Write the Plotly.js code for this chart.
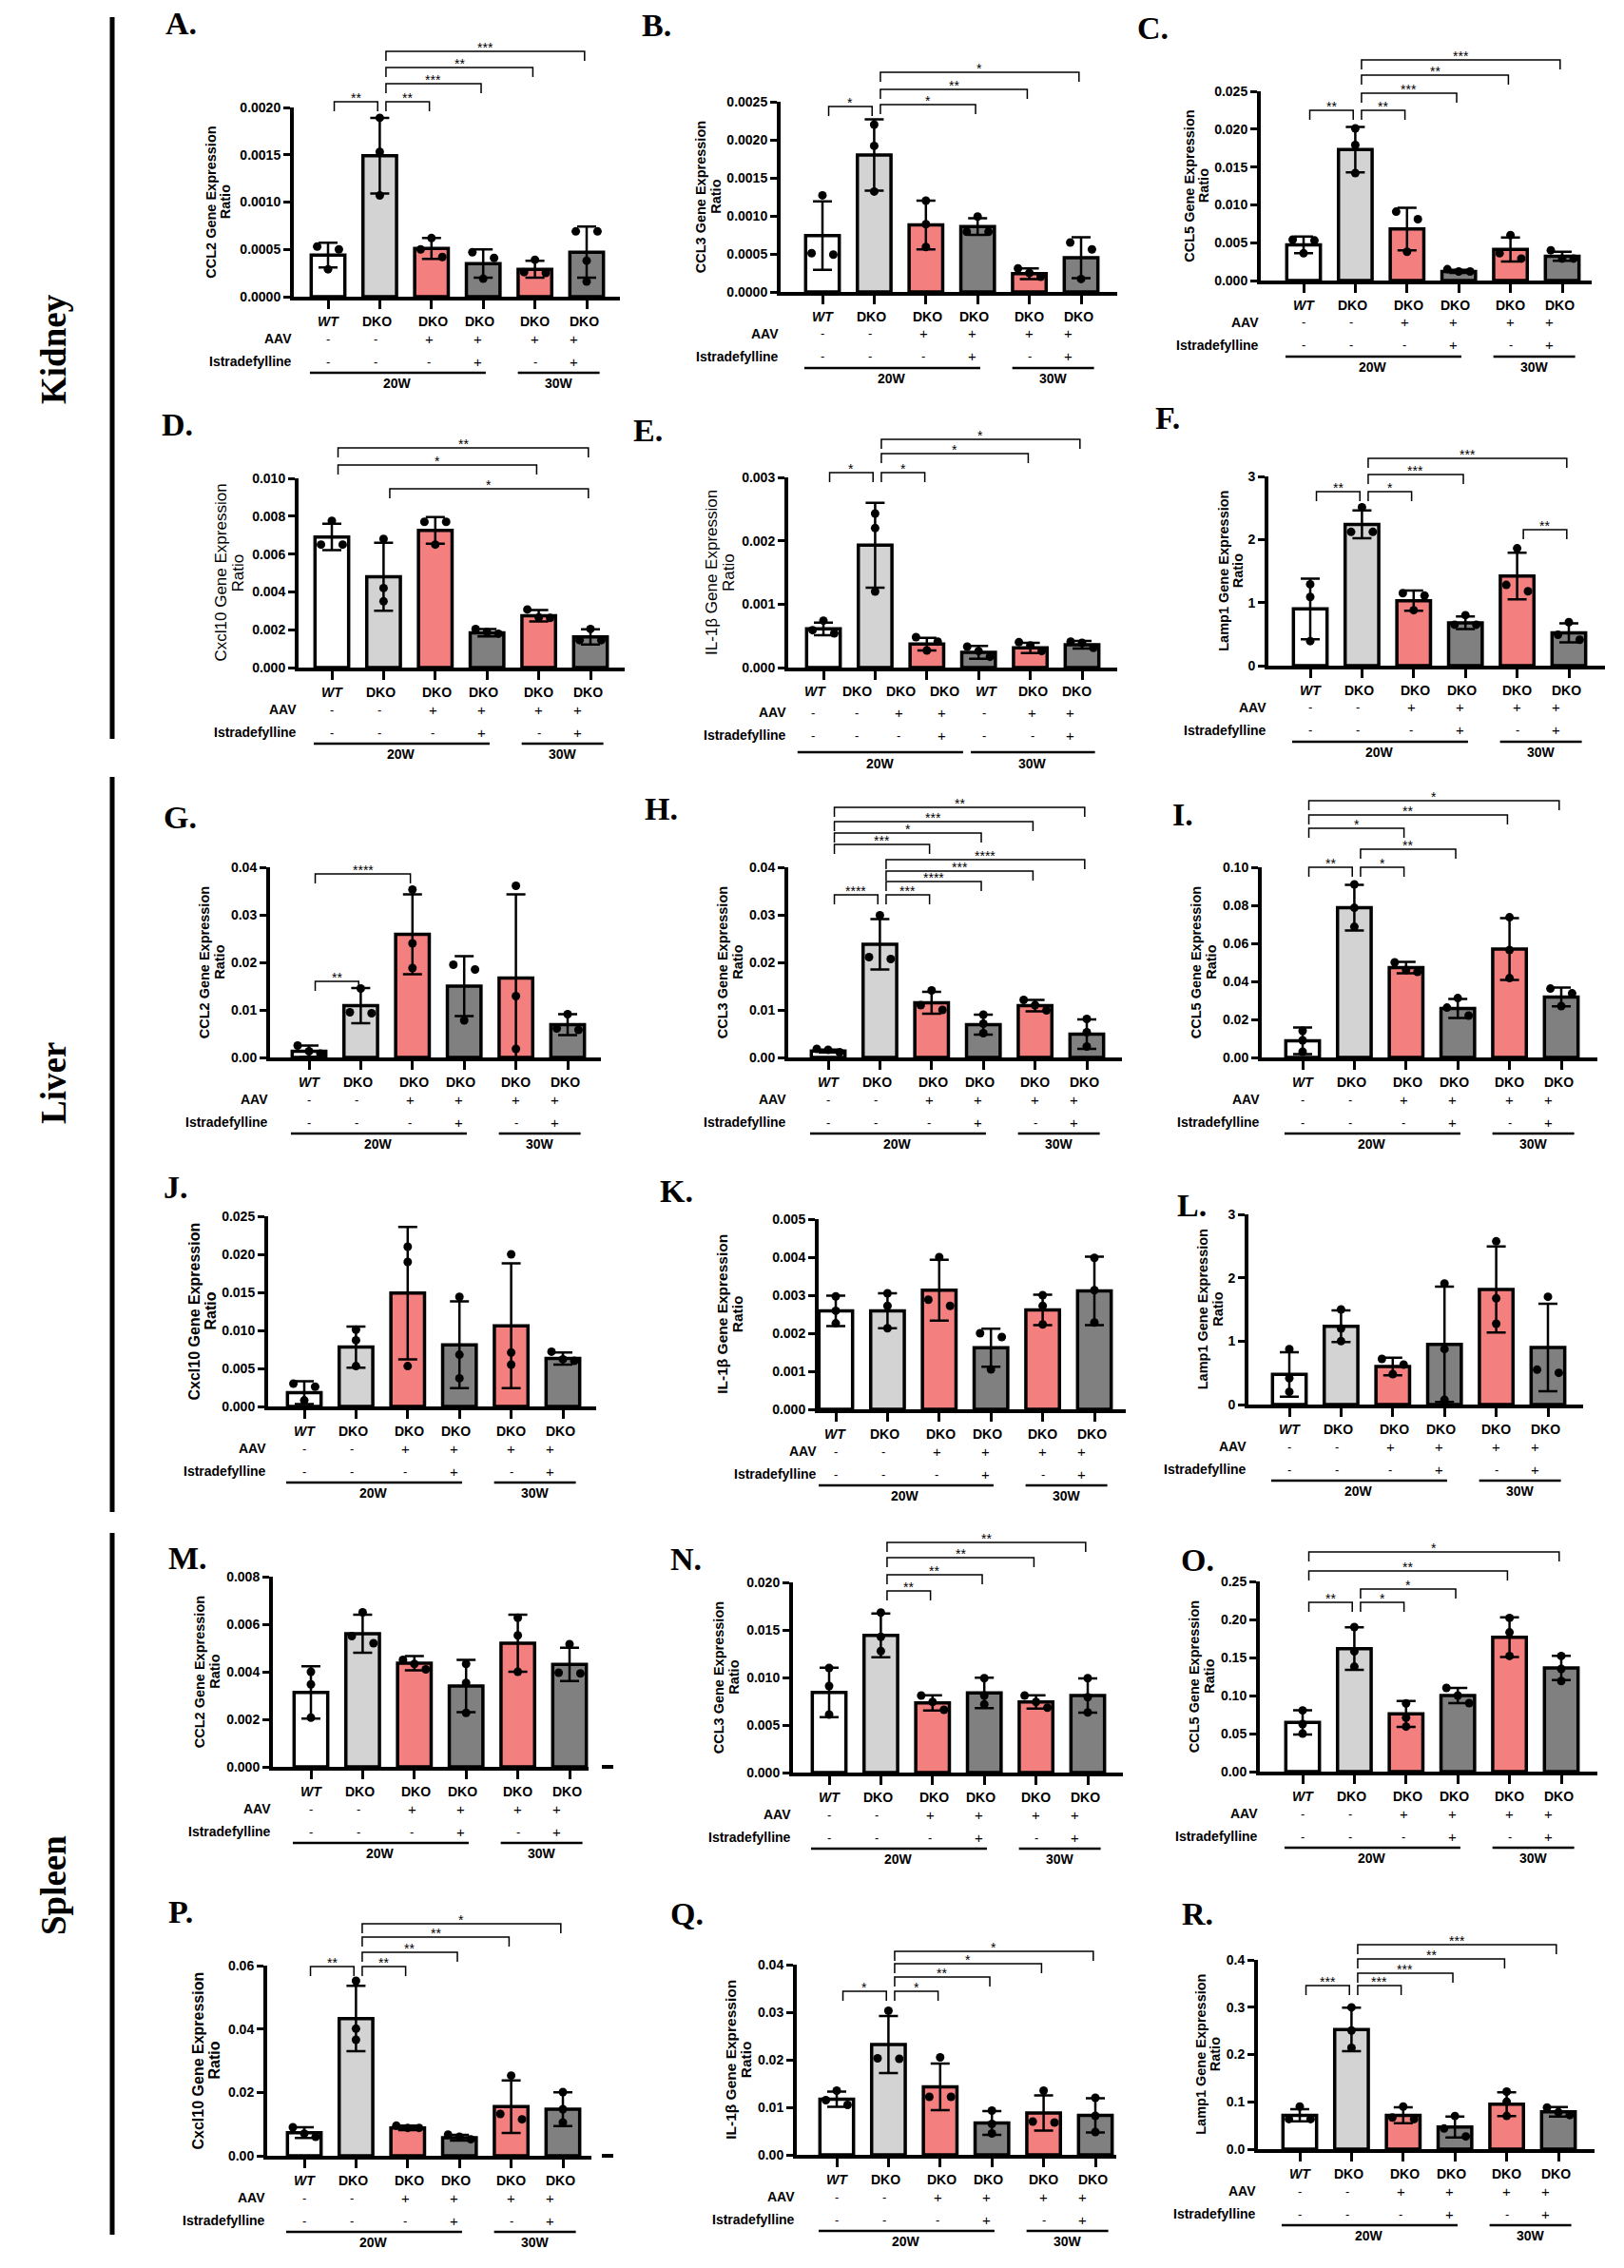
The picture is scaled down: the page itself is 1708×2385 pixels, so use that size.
<!DOCTYPE html>
<html>
<head>
<meta charset="utf-8">
<script src="https://cdn.plot.ly/plotly-3.0.1.min.js"></script>
<style>
  html, body { margin: 0; padding: 0; background: #fff; }
  #fig { width: 1708px; height: 2385px; }
</style>
</head>
<body>
<div id="fig"></div>
<script>
// ---------- table rows under each x axis ----------
const genotypeRow = ['WT', 'DKO', 'DKO', 'DKO', 'DKO', 'DKO'];
const aavRow      = ['-', '-', '+', '+', '+', '+'];
const istraRow    = ['-', '-', '-', '+', '-', '+'];
// kidney IL-1β panel carries a seven-column table
const genotypeRowE = ['WT', 'DKO', 'DKO', 'DKO', 'WT', 'DKO', 'DKO'];
const aavRowE      = ['-', '-', '+', '+', '-', '+', '+'];
const istraRowE    = ['-', '-', '-', '+', '-', '-', '+'];
const weekGroups   = ['20W', '30W'];
const organs       = ['Kidney', 'Liver', 'Spleen'];

// ---------- Kidney ----------
const kidneyCcl2Ticks  = ['0.0000', '0.0005', '0.0010', '0.0015', '0.0020'];
const kidneyCcl2Mean   = [0.00044, 0.00149, 0.00051, 0.00035, 0.00029, 0.00047];
const kidneyCcl2Sd     = [0.00013, 0.00040, 0.00011, 0.00015, 0.00009, 0.00027];
const kidneyCcl2Points = [[0.00053, 0.00050, 0.00029], [0.00189, 0.00153, 0.00107], [0.00062, 0.00050, 0.00042],
                          [0.00047, 0.00041, 0.00019], [0.00039, 0.00025, 0.00026], [0.00069, 0.00069, 0.00038, 0.00016]];
const kidneyCcl2Sig    = [[0, 1, '**'], [1, 2, '**'], [1, 3, '***'], [1, 4, '**'], [1, 5, '***']];

const kidneyCcl3Ticks  = ['0.0000', '0.0005', '0.0010', '0.0015', '0.0020', '0.0025'];
const kidneyCcl3Mean   = [0.00074, 0.00180, 0.00088, 0.00086, 0.00024, 0.00045];
const kidneyCcl3Sd     = [0.00045, 0.00047, 0.00032, 0.00011, 0.00007, 0.00027];
const kidneyCcl3Points = [[0.00127, 0.00049, 0.00051], [0.00220, 0.00192, 0.00132], [0.00120, 0.00089, 0.00059],
                          [0.00099, 0.00079, 0.00079], [0.00031, 0.00025, 0.00020], [0.00065, 0.00056, 0.00017]];
const kidneyCcl3Sig    = [[0, 1, '*'], [1, 3, '*'], [1, 4, '**'], [1, 5, '*']];

const kidneyCcl5Ticks  = ['0.000', '0.005', '0.010', '0.015', '0.020', '0.025'];
const kidneyCcl5Mean   = [0.0047, 0.0173, 0.0068, 0.0012, 0.0041, 0.0032];
const kidneyCcl5Sd     = [0.0011, 0.0030, 0.0028, 0.0002, 0.0016, 0.0006];
const kidneyCcl5Points = [[0.0054, 0.0053, 0.0036], [0.0201, 0.0179, 0.0142], [0.0091, 0.0081, 0.0038],
                          [0.0012, 0.0015, 0.0012], [0.0060, 0.0036, 0.0029], [0.0040, 0.0029, 0.0029]];
const kidneyCcl5Sig    = [[0, 1, '**'], [1, 2, '**'], [1, 3, '***'], [1, 4, '**'], [1, 5, '***']];

const kidneyCxcl10Ticks  = ['0.000', '0.002', '0.004', '0.006', '0.008', '0.010'];
const kidneyCxcl10Mean   = [0.00690, 0.00480, 0.00725, 0.00184, 0.00274, 0.00162];
const kidneyCxcl10Sd     = [0.0007, 0.0018, 0.0007, 0.0002, 0.0003, 0.0004];
const kidneyCxcl10Points = [[0.00775, 0.00650, 0.00650], [0.00680, 0.00420, 0.00350], [0.00770, 0.00770, 0.00650],
                            [0.00204, 0.00187, 0.00179], [0.00307, 0.00265, 0.00262], [0.00204, 0.00145, 0.00145]];
const kidneyCxcl10Sig    = [[0, 5, '**'], [0, 4, '*'], [1, 5, '*']];

const kidneyIl1bTicks  = ['0.000', '0.001', '0.002', '0.003'];
const kidneyIl1bMean   = [0.00061, 0.00193, 0.00037, 0.00024, 0.00031, 0.00036];
const kidneyIl1bSd     = [0.00010, 0.00067, 0.00010, 0.00010, 0.00008, 0.00006];
const kidneyIl1bPoints = [[0.00074, 0.00054, 0.00059], [0.00243, 0.00220, 0.00120], [0.00048, 0.00041, 0.00027],
                          [0.00033, 0.00026, 0.00017], [0.00040, 0.00035, 0.00026], [0.00041, 0.00039, 0.00031]];
const kidneyIl1bSig    = [[0, 1, '*'], [1, 2, '*'], [1, 4, '*'], [1, 5, '*']];

const kidneyLamp1Ticks  = ['0', '1', '2', '3'];
const kidneyLamp1Mean   = [0.90, 2.24, 1.03, 0.68, 1.42, 0.52];
const kidneyLamp1Sd     = [0.48, 0.22, 0.16, 0.10, 0.37, 0.15];
const kidneyLamp1Points = [[1.29, 1.09, 0.39], [2.51, 2.12, 2.12], [1.15, 1.11, 0.88],
                           [0.80, 0.65, 0.65], [1.86, 1.28, 1.18], [0.69, 0.49, 0.41]];
const kidneyLamp1Sig    = [[0, 1, '**'], [1, 2, '*'], [1, 3, '***'], [1, 5, '***'], [4, 5, '**']];

// ---------- Liver ----------
const liverCcl2Ticks  = ['0.00', '0.01', '0.02', '0.03', '0.04'];
const liverCcl2Mean   = [0.0013, 0.0109, 0.0259, 0.0150, 0.0167, 0.0069];
const liverCcl2Sd     = [0.0012, 0.0037, 0.0084, 0.0063, 0.0176, 0.0022];
const liverCcl2Points = [[0.0025, 0.0013, 0.0008], [0.0145, 0.0095, 0.0093], [0.0353, 0.0240, 0.0188],
                         [0.0195, 0.0185, 0.0078], [0.0361, 0.0129, 0.0018], [0.0091, 0.0061, 0.0058]];
const liverCcl2Sig    = [[0, 2, '****'], [0, 1, '**']];

const liverCcl3Ticks  = ['0.00', '0.01', '0.02', '0.03', '0.04'];
const liverCcl3Mean   = [0.00133, 0.0238, 0.0115, 0.0069, 0.0109, 0.0049];
const liverCcl3Sd     = [0.0003, 0.0053, 0.0023, 0.0021, 0.0012, 0.0031];
const liverCcl3Points = [[0.0011, 0.0018, 0.0016], [0.0299, 0.0207, 0.0211], [0.0141, 0.0100, 0.0110],
                         [0.0090, 0.0071, 0.0051], [0.0121, 0.0099, 0.0110], [0.0081, 0.0053, 0.0023]];
const liverCcl3Sig    = [[0, 1, '****'], [1, 2, '***'], [1, 3, '****'], [1, 4, '***'], [1, 5, '****'],
                         [0, 2, '***'], [0, 3, '*'], [0, 4, '***'], [0, 5, '**']];

const liverCcl5Ticks  = ['0.00', '0.02', '0.04', '0.06', '0.08', '0.10'];
const liverCcl5Mean   = [0.0087, 0.0787, 0.0473, 0.0258, 0.0570, 0.0318];
const liverCcl5Sd     = [0.0070, 0.0120, 0.0030, 0.0050, 0.0163, 0.0049];
const liverCcl5Points = [[0.0140, 0.0090, 0.0030], [0.0910, 0.0787, 0.0687], [0.0500, 0.0460, 0.0450],
                         [0.0312, 0.0262, 0.0220], [0.0737, 0.0565, 0.0417], [0.0362, 0.0337, 0.0270]];
const liverCcl5Sig    = [[0, 1, '**'], [1, 2, '*'], [1, 3, '**'], [0, 2, '*'], [0, 4, '**'], [0, 5, '*']];

const liverCxcl10Ticks  = ['0.000', '0.005', '0.010', '0.015', '0.020', '0.025'];
const liverCxcl10Mean   = [0.0018, 0.0078, 0.0149, 0.0081, 0.0106, 0.0063];
const liverCxcl10Sd     = [0.0015, 0.0027, 0.0087, 0.0057, 0.0082, 0.0008];
const liverCxcl10Points = [[0.0030, 0.0026, 0.0008], [0.0101, 0.0087, 0.0053], [0.0210, 0.0190, 0.0053],
                           [0.0144, 0.0068, 0.0037], [0.0200, 0.0071, 0.0055], [0.0072, 0.0062, 0.0060]];
const liverCxcl10Sig    = [];

const liverIl1bTicks  = ['0.000', '0.001', '0.002', '0.003', '0.004', '0.005'];
const liverIl1bMean   = [0.00259, 0.00259, 0.00313, 0.00162, 0.00261, 0.00311];
const liverIl1bSd     = [0.00040, 0.00046, 0.00080, 0.00050, 0.00040, 0.00090];
const liverIl1bPoints = [[0.00297, 0.00259, 0.00226], [0.00305, 0.00272, 0.00213], [0.00400, 0.00288, 0.00272],
                         [0.00200, 0.00190, 0.00105], [0.00300, 0.00272, 0.00223], [0.00398, 0.00313, 0.00228]];
const liverIl1bSig    = [];

const liverLamp1Ticks  = ['0', '1', '2', '3'];
const liverLamp1Mean   = [0.475, 1.235, 0.600, 0.950, 1.815, 0.900];
const liverLamp1Sd     = [0.35, 0.25, 0.14, 0.91, 0.68, 0.69];
const liverLamp1Points = [[0.875, 0.415, 0.200], [1.500, 1.200, 1.000], [0.720, 0.630, 0.480],
                          [1.910, 0.875, 0.075], [2.575, 1.675, 1.275], [1.700, 0.550, 0.500]];
const liverLamp1Sig    = [];

// ---------- Spleen ----------
const spleenCcl2Ticks  = ['0.000', '0.002', '0.004', '0.006', '0.008'];
const spleenCcl2Mean   = [0.00313, 0.00560, 0.00436, 0.00340, 0.00520, 0.00431];
const spleenCcl2Sd     = [0.0011, 0.0008, 0.0003, 0.0011, 0.0012, 0.0007];
const spleenCcl2Points = [[0.00400, 0.00347, 0.00207], [0.00650, 0.00550, 0.00520], [0.00450, 0.00433, 0.00410],
                          [0.00433, 0.00353, 0.00227], [0.00627, 0.00553, 0.00400], [0.00516, 0.00393, 0.00396]];
const spleenCcl2Sig    = [];

const spleenCcl3Ticks  = ['0.000', '0.005', '0.010', '0.015', '0.020'];
const spleenCcl3Mean   = [0.00843, 0.01443, 0.00733, 0.00837, 0.00743, 0.00810];
const spleenCcl3Sd     = [0.0026, 0.0023, 0.0008, 0.0016, 0.0007, 0.0018];
const spleenCcl3Points = [[0.01100, 0.00910, 0.00610], [0.01683, 0.01427, 0.01277], [0.00810, 0.00743, 0.00660],
                          [0.00993, 0.00810, 0.00717], [0.00810, 0.00743, 0.00683], [0.00993, 0.00793, 0.00633]];
const spleenCcl3Sig    = [[1, 2, '**'], [1, 3, '**'], [1, 4, '**'], [1, 5, '**']];

const spleenCcl5Ticks  = ['0.00', '0.05', '0.10', '0.15', '0.20', '0.25'];
const spleenCcl5Mean   = [0.0646, 0.1617, 0.0758, 0.1000, 0.1767, 0.1363];
const spleenCcl5Sd     = [0.016, 0.028, 0.017, 0.010, 0.026, 0.016];
const spleenCcl5Points = [[0.0804, 0.0625, 0.0500], [0.1900, 0.1580, 0.1380], [0.0896, 0.0708, 0.0592],
                          [0.1100, 0.1000, 0.0900], [0.2020, 0.1830, 0.1520], [0.1520, 0.1350, 0.1190]];
const spleenCcl5Sig    = [[0, 1, '**'], [1, 2, '*'], [1, 3, '*'], [0, 4, '**'], [0, 5, '*']];

const spleenCxcl10Ticks  = ['0.00', '0.02', '0.04', '0.06'];
const spleenCxcl10Mean   = [0.0073, 0.0433, 0.0088, 0.0057, 0.0155, 0.0147];
const spleenCxcl10Sd     = [0.0017, 0.0103, 0.0007, 0.0009, 0.0083, 0.0053];
const spleenCxcl10Points = [[0.0090, 0.0070, 0.0060], [0.0552, 0.0401, 0.0366], [0.0095, 0.0088, 0.0088],
                            [0.0067, 0.0060, 0.0052], [0.0253, 0.0132, 0.0115], [0.0201, 0.0147, 0.0105]];
const spleenCxcl10Sig    = [[0, 1, '**'], [1, 2, '**'], [1, 3, '**'], [1, 4, '**'], [1, 5, '*']];

const spleenIl1bTicks  = ['0.00', '0.01', '0.02', '0.03', '0.04'];
const spleenIl1bMean   = [0.0117, 0.0232, 0.0143, 0.0067, 0.0088, 0.0083];
const spleenIl1bSd     = [0.0016, 0.0060, 0.0049, 0.0025, 0.0037, 0.0036];
const spleenIl1bPoints = [[0.0135, 0.0115, 0.0105], [0.0303, 0.0203, 0.0202], [0.0205, 0.0122, 0.0122],
                          [0.0093, 0.0065, 0.0045], [0.0135, 0.0068, 0.0070], [0.0120, 0.0082, 0.0048]];
const spleenIl1bSig    = [[0, 1, '*'], [1, 2, '*'], [1, 3, '**'], [1, 4, '*'], [1, 5, '*']];

const spleenLamp1Ticks  = ['0.0', '0.1', '0.2', '0.3', '0.4'];
const spleenLamp1Mean   = [0.0716, 0.2528, 0.0716, 0.0468, 0.0950, 0.0789];
const spleenLamp1Sd     = [0.013, 0.046, 0.017, 0.022, 0.025, 0.010];
const spleenLamp1Points = [[0.0900, 0.0635, 0.0635], [0.2997, 0.2508, 0.2140], [0.0900, 0.0669, 0.0635],
                           [0.0700, 0.0435, 0.0268], [0.1217, 0.1003, 0.0702], [0.0880, 0.0780, 0.0720]];
const spleenLamp1Sig    = [[0, 1, '***'], [1, 2, '***'], [1, 3, '***'], [1, 4, '**'], [1, 5, '***']];

// ---------- page geometry (pixels) ----------
const W = 1708, H = 2385;
const SP = 54.4;                       // pixel distance between neighbouring bars
const FONT = 'Liberation Sans, Arial, sans-serif';
const SERIF = 'Liberation Serif, Times New Roman, serif';
const BAR_COLORS = ['#ffffff', '#d3d3d3', '#f47f7f', '#808080', '#f47f7f', '#808080'];
const px = x => x / W;
const py = y => 1 - y / H;

// geo: [y-axis x, first bar centre x, x-axis end, plot top y, plot bottom y]
const panels = [
  {letter: 'A', gene: 'CCL2',   mean: kidneyCcl2Mean,   sd: kidneyCcl2Sd,   pts: kidneyCcl2Points,   ticks: kidneyCcl2Ticks,   sig: kidneyCcl2Sig,
   geo: [309, 345, 652, 113, 312], tOff: 79, tSize: 14.5, tBold: true, sigY: [107, 107, 88, 71, 54], lab: [172, 22]},
  {letter: 'B', gene: 'CCL3',   mean: kidneyCcl3Mean,   sd: kidneyCcl3Sd,   pts: kidneyCcl3Points,   ticks: kidneyCcl3Ticks,   sig: kidneyCcl3Sig,
   geo: [821, 865, 1175, 107, 307], tOff: 76, tSize: 14.5, tBold: true, sigY: [112, 110, 94, 76], lab: [673, 24]},
  {letter: 'C', gene: 'CCL5',   mean: kidneyCcl5Mean,   sd: kidneyCcl5Sd,   pts: kidneyCcl5Points,   ticks: kidneyCcl5Ticks,   sig: kidneyCcl5Sig,
   geo: [1326, 1371, 1674, 96, 295], tOff: 68, tSize: 14.5, tBold: true, sigY: [116, 116, 98, 79, 63], lab: [1194, 26]},
  {letter: 'D', gene: 'Cxcl10', mean: kidneyCxcl10Mean, sd: kidneyCxcl10Sd, pts: kidneyCxcl10Points, ticks: kidneyCxcl10Ticks, sig: kidneyCxcl10Sig,
   geo: [314, 349, 657, 503, 702], tOff: 73, tSize: 17, tBold: false, sigY: [471, 489, 514], lab: [168, 443]},
  {letter: 'E', gene: 'IL-1β',  mean: kidneyIl1bMean,   sd: kidneyIl1bSd,   pts: kidneyIl1bPoints,   ticks: kidneyIl1bTicks,   sig: kidneyIl1bSig,
   geo: [829, 866, 1175, 502, 702], tOff: 72, tSize: 17, tBold: false, sigY: [497, 497, 477, 462], lab: [664, 450], wide: true},
  {letter: 'F', gene: 'Lamp1',  mean: kidneyLamp1Mean,  sd: kidneyLamp1Sd,  pts: kidneyLamp1Points,  ticks: kidneyLamp1Ticks,  sig: kidneyLamp1Sig,
   geo: [1334, 1378, 1688, 501, 700], tOff: 40, tSize: 14.5, tBold: true, sigY: [517, 517, 499, 482, 557], lab: [1213, 436]},

  {letter: 'G', gene: 'CCL2',   mean: liverCcl2Mean,   sd: liverCcl2Sd,   pts: liverCcl2Points,   ticks: liverCcl2Ticks,   sig: liverCcl2Sig,
   geo: [284, 325, 632, 912, 1112], tOff: 61, tSize: 14.5, tBold: true, sigY: [919, 1032], lab: [170, 856]},
  {letter: 'H', gene: 'CCL3',   mean: liverCcl3Mean,   sd: liverCcl3Sd,   pts: liverCcl3Points,   ticks: liverCcl3Ticks,   sig: liverCcl3Sig,
   geo: [829, 871, 1180, 912, 1112], tOff: 61, tSize: 14.5, tBold: true, sigY: [941, 941, 927, 916, 904, 888, 876, 864, 849], lab: [676, 847]},
  {letter: 'I', gene: 'CCL5',   mean: liverCcl5Mean,   sd: liverCcl5Sd,   pts: liverCcl5Points,   ticks: liverCcl5Ticks,   sig: liverCcl5Sig,
   geo: [1327, 1370, 1680, 912, 1112], tOff: 61, tSize: 14.5, tBold: true, sigY: [912, 912, 893, 871, 857, 842], lab: [1231, 853]},
  {letter: 'J', gene: 'Cxcl10', mean: liverCxcl10Mean, sd: liverCxcl10Sd, pts: liverCxcl10Points, ticks: liverCxcl10Ticks, sig: liverCxcl10Sig,
   geo: [282, 320, 627, 1279, 1479], tOff: 70, tSize: 16, tBold: true, sigY: [], lab: [170, 1245]},
  {letter: 'K', gene: 'IL-1β',  mean: liverIl1bMean,   sd: liverIl1bSd,   pts: liverIl1bPoints,   ticks: liverIl1bTicks,   sig: liverIl1bSig,
   geo: [861, 879, 1184, 1282, 1482], tOff: 94, tSize: 15.5, tBold: true, sigY: [], lab: [692, 1249]},
  {letter: 'L', gene: 'Lamp1',  mean: liverLamp1Mean,  sd: liverLamp1Sd,  pts: liverLamp1Points,  ticks: liverLamp1Ticks,  sig: liverLamp1Sig,
   geo: [1313, 1356, 1665, 1277, 1477], tOff: 40, tSize: 14.5, tBold: true, sigY: [], lab: [1236, 1264]},

  {letter: 'M', gene: 'CCL2',   mean: spleenCcl2Mean,   sd: spleenCcl2Sd,   pts: spleenCcl2Points,   ticks: spleenCcl2Ticks,   sig: spleenCcl2Sig,
   geo: [287, 327, 619, 1658, 1858], tOff: 69, tSize: 14.5, tBold: true, sigY: [], lab: [175, 1635], dash: true},
  {letter: 'N', gene: 'CCL3',   mean: spleenCcl3Mean,   sd: spleenCcl3Sd,   pts: spleenCcl3Points,   ticks: spleenCcl3Ticks,   sig: spleenCcl3Sig,
   geo: [834, 872, 1181, 1664, 1864], tOff: 70, tSize: 14.5, tBold: true, sigY: [1673, 1656, 1638, 1622], lab: [703, 1636]},
  {letter: 'O', gene: 'CCL5',   mean: spleenCcl5Mean,   sd: spleenCcl5Sd,   pts: spleenCcl5Points,   ticks: spleenCcl5Ticks,   sig: spleenCcl5Sig,
   geo: [1325, 1370, 1680, 1663, 1863], tOff: 61, tSize: 14.5, tBold: true, sigY: [1685, 1685, 1671, 1652, 1632], lab: [1240, 1637]},
  {letter: 'P', gene: 'Cxcl10', mean: spleenCxcl10Mean, sd: spleenCxcl10Sd, pts: spleenCxcl10Points, ticks: spleenCxcl10Ticks, sig: spleenCxcl10Sig,
   geo: [281, 320, 622, 2067, 2267], tOff: 65, tSize: 16, tBold: true, sigY: [2068, 2068, 2053, 2037, 2023], lab: [175, 2007], dash: true},
  {letter: 'Q', gene: 'IL-1β',  mean: spleenIl1bMean,   sd: spleenIl1bSd,   pts: spleenIl1bPoints,   ticks: spleenIl1bTicks,   sig: spleenIl1bSig,
   geo: [838, 880, 1174, 2066, 2266], tOff: 62, tSize: 15.5, tBold: true, sigY: [2094, 2094, 2079, 2065, 2052], lab: [703, 2009]},
  {letter: 'R', gene: 'Lamp1',  mean: spleenLamp1Mean,  sd: spleenLamp1Sd,  pts: spleenLamp1Points,  ticks: spleenLamp1Ticks,  sig: spleenLamp1Sig,
   geo: [1323, 1367, 1677, 2061, 2260], tOff: 53, tSize: 14.5, tBold: true, sigY: [2088, 2088, 2075, 2060, 2045], lab: [1241, 2009]}
];

// column placement of the table text (category units)
const labelCols  = [0, 0.95, 2.03, 2.93, 4.0, 4.95];
const signCols   = [0, 0.92, 1.95, 2.9, 4.0, 4.75];
const labelColsE = [-0.15, 0.65, 1.5, 2.35, 3.15, 4.05, 4.9];
const signColsE  = [-0.2, 0.64, 1.46, 2.29, 3.1, 4.04, 4.77];
const groupSpan  = [[-0.35, 3.05], [3.67, 5.25]];
const groupSpanE = [[-0.5, 2.7], [2.85, 5.25]];
const rowOffset  = [26, 44, 68, 80, 91];     // genotype, AAV, Istradefylline, rule, week label
const rowOffsetE = [25, 47, 71, 89, 101];

// spread overlapping dots sideways, as a column scatter does
function spread(vals, ymax) {
  const thr = ymax * 0.045;
  const order = vals.map((v, i) => i).sort((a, b) => vals[b] - vals[a]);
  const offs = new Array(vals.length).fill(0);
  const clusters = [];
  let cur = [order[0]];
  for (let k = 1; k < order.length; k++) {
    if (vals[cur[cur.length - 1]] - vals[order[k]] < thr) cur.push(order[k]);
    else { clusters.push(cur); cur = [order[k]]; }
  }
  clusters.push(cur);
  clusters.forEach(c => {
    const n = c.length;
    if (n === 1) return;
    const step = n === 2 ? 0.42 : 0.44 / (n - 1);
    c.forEach((id, m) => { offs[id] = (m - (n - 1) / 2) * step; });
  });
  return offs;
}

const traces = [];
const shapes = [];
const annotations = [];
const layout = {
  width: W, height: H,
  margin: {l: 0, r: 0, t: 0, b: 0},
  paper_bgcolor: '#ffffff',
  plot_bgcolor: 'rgba(0,0,0,0)',
  showlegend: false,
  font: {family: FONT, color: '#000'}
};

panels.forEach((p, k) => {
  const sfx = k === 0 ? '' : String(k + 1);
  const xa = 'x' + sfx, ya = 'y' + sfx;
  const [ax, first, aend, top, bot] = p.geo;
  const tickVals = p.ticks.map(Number);
  const ymax = tickVals[tickVals.length - 1];
  const cats = p.mean.map((v, i) => i);

  layout['xaxis' + sfx] = {
    domain: [px(ax), px(aend)],
    range: [(ax - first) / SP, (aend - first) / SP],
    anchor: ya, showline: true, linecolor: '#000', linewidth: 4,
    ticks: 'outside', ticklen: 9, tickwidth: 3, tickcolor: '#000',
    tickvals: cats, showticklabels: false,
    showgrid: false, zeroline: false, fixedrange: true
  };
  layout['yaxis' + sfx] = {
    domain: [py(bot), py(top)],
    range: [0, ymax],
    anchor: xa, showline: true, linecolor: '#000', linewidth: 4,
    ticks: 'outside', ticklen: 7, tickwidth: 3, tickcolor: '#000',
    tickvals: tickVals, ticktext: p.ticks.map(t => '<b>' + t + '</b>'),
    tickfont: {family: FONT, size: 14, color: '#000'},
    showgrid: false, zeroline: false, fixedrange: true
  };

  traces.push({
    type: 'bar', x: cats, y: p.mean, width: 0.65,
    xaxis: xa, yaxis: ya,
    marker: {color: BAR_COLORS, line: {color: '#000', width: 3.5}},
    error_y: {type: 'data', array: p.sd, visible: true, color: '#000', thickness: 2.5, width: 10},
    hoverinfo: 'skip', showlegend: false
  });

  const dx = [], dy = [];
  p.pts.forEach((vals, i) => {
    const offs = spread(vals, ymax);
    vals.forEach((v, j) => { dx.push(i + offs[j]); dy.push(v); });
  });
  traces.push({
    type: 'scatter', mode: 'markers', x: dx, y: dy,
    xaxis: xa, yaxis: ya, cliponaxis: false,
    marker: {size: 9, color: '#000'},
    hoverinfo: 'skip', showlegend: false
  });

  // y-axis title, two rotated lines
  const tc = ax - p.tOff;
  const gap = (p.tSize + 1) / 2;
  [[p.gene + ' Gene Expression', tc - gap], ['Ratio', tc + gap]].forEach(([t, xx]) => {
    annotations.push({
      xref: 'paper', yref: 'paper', x: px(xx), y: py((top + bot) / 2),
      text: p.tBold ? '<b>' + t + '</b>' : t, textangle: -90, showarrow: false,
      xanchor: 'center', yanchor: 'middle',
      font: {family: FONT, size: p.tSize, color: '#000'}
    });
  });

  // panel letter
  annotations.push({
    xref: 'paper', yref: 'paper', x: px(p.lab[0]), y: py(p.lab[1] + 3),
    text: '<b>' + p.letter + '.</b>', showarrow: false, xanchor: 'left', yanchor: 'middle',
    font: {family: SERIF, size: 34, color: '#000'}
  });

  // table under the axis
  const geno = p.wide ? genotypeRowE : genotypeRow;
  const aav = p.wide ? aavRowE : aavRow;
  const istra = p.wide ? istraRowE : istraRow;
  const lc = p.wide ? labelColsE : labelCols;
  const sc = p.wide ? signColsE : signCols;
  const ro = p.wide ? rowOffsetE : rowOffset;
  const spans = p.wide ? groupSpanE : groupSpan;

  geno.forEach((g, i) => {
    annotations.push({
      xref: xa, yref: 'paper', x: lc[i], y: py(bot + ro[0]),
      text: g === 'WT' ? '<b><i>WT</i></b>' : '<b>' + g + '</b>', showarrow: false,
      xanchor: 'center', yanchor: 'middle', font: {family: FONT, size: 14, color: '#000'}
    });
  });
  [[aav, ro[1]], [istra, ro[2]]].forEach(([row, off]) => {
    row.forEach((s, i) => {
      annotations.push({
        xref: xa, yref: 'paper', x: sc[i], y: py(bot + off),
        text: s, showarrow: false, xanchor: 'center', yanchor: 'middle',
        font: {family: FONT, size: s === '+' ? 15 : 13, color: '#000'}
      });
    });
  });
  [['AAV', ro[1]], ['Istradefylline', ro[2]]].forEach(([t, off]) => {
    annotations.push({
      xref: 'paper', yref: 'paper', x: px(ax), y: py(bot + off),
      text: '<b>' + t + '</b>', showarrow: false, xanchor: 'right', yanchor: 'middle',
      font: {family: FONT, size: 14, color: '#000'}
    });
  });
  spans.forEach((s, g) => {
    shapes.push({
      type: 'line', xref: xa, yref: 'paper', x0: s[0], x1: s[1],
      y0: py(bot + ro[3]), y1: py(bot + ro[3]), line: {color: '#000', width: 2.5}
    });
    annotations.push({
      xref: xa, yref: 'paper', x: (s[0] + s[1]) / 2, y: py(bot + ro[4]),
      text: '<b>' + weekGroups[g] + '</b>', showarrow: false, xanchor: 'center', yanchor: 'middle',
      font: {family: FONT, size: 14, color: '#000'}
    });
  });

  // significance brackets
  p.sig.forEach(([i, j, stars], b) => {
    const yb = p.sigY[b];
    const x1 = i + 0.12, x2 = j - 0.04;
    shapes.push({
      type: 'path', xref: xa, yref: 'paper',
      path: `M ${x1},${py(yb + 10)} L ${x1},${py(yb)} L ${x2},${py(yb)} L ${x2},${py(yb + 10)}`,
      line: {color: '#000', width: 1.5}
    });
    annotations.push({
      xref: xa, yref: 'paper', x: (x1 + x2) / 2, y: py(yb - 4),
      text: stars, showarrow: false, xanchor: 'center', yanchor: 'middle',
      font: {family: FONT, size: 14, color: '#000'}
    });
  });

  if (p.dash) {
    shapes.push({
      type: 'line', xref: 'paper', yref: 'paper', x0: px(633), x1: px(645),
      y0: py(bot), y1: py(bot), line: {color: '#000', width: 4}
    });
  }
});

// organ labels and their rules
const organSpans = [[18, 777, 367], [817, 1590, 1139], [1612, 2350, 1983]];
organs.forEach((o, i) => {
  const [y0, y1, yc] = organSpans[i];
  shapes.push({
    type: 'line', xref: 'paper', yref: 'paper', x0: px(118), x1: px(118),
    y0: py(y0), y1: py(y1), line: {color: '#000', width: 5}
  });
  annotations.push({
    xref: 'paper', yref: 'paper', x: px(56), y: py(yc),
    text: '<b>' + o + '</b>', textangle: -90, showarrow: false,
    xanchor: 'center', yanchor: 'middle',
    font: {family: SERIF, size: 37, color: '#000'}
  });
});

layout.shapes = shapes;
layout.annotations = annotations;

Plotly.newPlot('fig', traces, layout, {staticPlot: true, displayModeBar: false});
</script>
</body>
</html>
